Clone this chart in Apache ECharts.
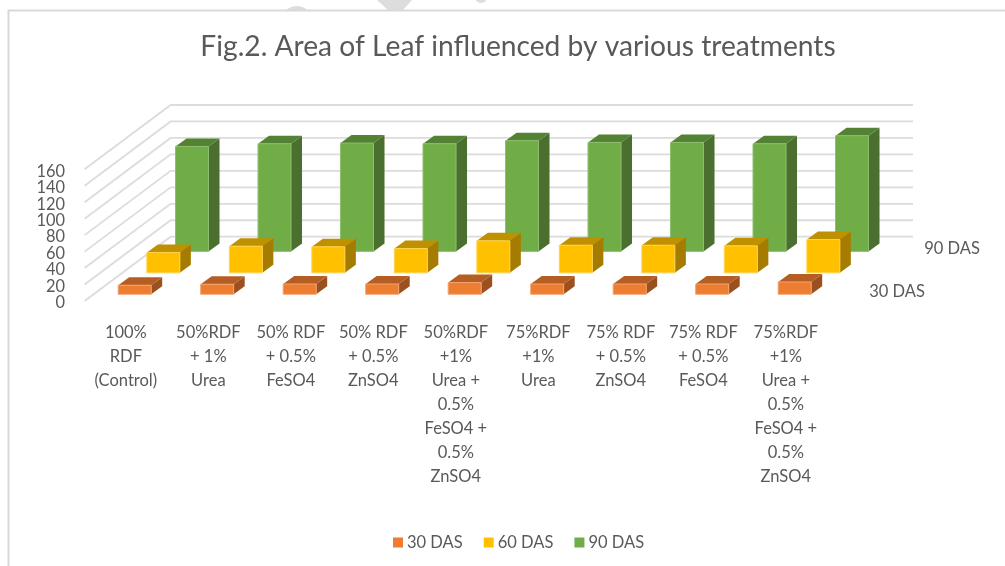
<!DOCTYPE html>
<html>
<head>
<meta charset="utf-8">
<style>html,body{margin:0;padding:0;background:#fff}#c{width:1005px;height:566px}</style>
<script src="https://cdn.jsdelivr.net/npm/echarts@6/dist/echarts.min.js"></script>
</head>
<body>
<div id="c"></div>
<script>
const categories = [
  "100%\nRDF\n(Control)",
  "50%RDF\n+ 1%\nUrea",
  "50% RDF\n+ 0.5%\nFeSO4",
  "50% RDF\n+ 0.5%\nZnSO4",
  "50%RDF\n+1%\nUrea +\n0.5%\nFeSO4 +\n0.5%\nZnSO4",
  "75%RDF\n+1%\nUrea",
  "75% RDF\n+ 0.5%\nZnSO4",
  "75% RDF\n+ 0.5%\nFeSO4",
  "75%RDF\n+1%\nUrea +\n0.5%\nFeSO4 +\n0.5%\nZnSO4"
];
const das30 = [11, 12.2, 12.5, 12.5, 14.2, 12.5, 12.5, 12.5, 15];
const das60 = [24.8, 32.4, 31.6, 29.6, 38.9, 33.6, 33.6, 32.8, 40.5];
const das90 = [127.5, 130.8, 131.6, 130.8, 134.5, 132.4, 132.4, 130.8, 140.6];
const yTicks = [0, 20, 40, 60, 80, 100, 120, 140, 160];

const DX = 86, DY = -64.3, ROWS = 3;
const rowDx = DX / ROWS, rowDy = DY / ROWS;
const barDx = 11, barDy = -8, barFrac = 0.4;
const wallRight = 913;
const TXT = '#595959', FONT = 'Lato';

function barSeries(name, values, row, z, c) {
  return {
    type: 'custom', name, z,
    data: values.map((v, i) => [i, v]),
    encode: { x: 0, y: 1 },
    itemStyle: { color: c.front },
    renderItem(params, api) {
      const i = api.value(0), v = api.value(1);
      const top = api.coord([i, v]), base = api.coord([i, 0]);
      const w = api.size([1, 0])[0] * barFrac;
      const x0 = base[0] + row * rowDx + (rowDx - barDx) / 2 - w / 2;
      const yB = base[1] + row * rowDy + (rowDy - barDy) / 2;
      const yT = top[1] + row * rowDy + (rowDy - barDy) / 2;
      const x1 = x0 + w;
      return { type: 'group', children: [
        { type: 'polygon', shape: { points: [[x1, yT], [x1 + barDx, yT + barDy], [x1 + barDx, yB + barDy], [x1, yB]] }, style: { fill: c.side } },
        { type: 'polygon', shape: { points: [[x0, yT], [x0 + barDx, yT + barDy], [x1 + barDx, yT + barDy], [x1, yT]] }, style: { fill: c.top } },
        { type: 'rect', shape: { x: x0, y: yT, width: w, height: yB - yT }, style: { fill: c.front, stroke: c.edge, lineWidth: 1 } }
      ] };
    }
  };
}

const wallSeries = {
  type: 'custom', name: 'wall', z: 1, silent: true,
  data: yTicks.map(v => [0, v]),
  encode: { x: 0, y: 1 },
  renderItem(params, api) {
    const p = api.coord([0, api.value(1)]);
    const x0 = p[0] - api.size([1, 0])[0] / 2, y0 = p[1];
    const ls = { stroke: '#DCDCDC', lineWidth: 1.8, fill: null };
    return { type: 'group', children: [
      { type: 'polyline', shape: { points: [[x0, y0], [x0 + DX, y0 + DY], [wallRight, y0 + DY]] }, style: ls }
    ] };
  }
};

const chart = echarts.init(document.getElementById('c'), null, { renderer: 'canvas' });
chart.setOption({
  animation: false,
  backgroundColor: '#fff',
  textStyle: { fontFamily: FONT },
  title: {
    text: 'Fig.2. Area of Leaf influenced by various treatments',
    left: 513, top: 28, textAlign: 'center',
    textStyle: { fontFamily: FONT, fontSize: 28.2, fontWeight: 'normal', color: TXT }
  },
  legend: {
    data: ['30 DAS', '60 DAS', '90 DAS'],
    left: 388, top: 529, icon: 'rect', itemWidth: 10, itemHeight: 10, itemGap: 21,
    textStyle: { fontFamily: FONT, fontSize: 16.5, color: TXT, padding: [0, 0, 0, -1] },
    selectedMode: false
  },
  grid: { left: 84.6, top: 169.3, width: 742.5, height: 131.7 },
  xAxis: {
    type: 'category', data: categories,
    axisLine: { show: false }, axisTick: { show: false }, splitLine: { show: false },
    axisLabel: { interval: 0, margin: 20, lineHeight: 24, fontSize: 16.5, color: TXT, fontFamily: FONT }
  },
  yAxis: {
    type: 'value', min: 0, max: 160, interval: 20,
    axisLine: { show: false }, axisTick: { show: false }, splitLine: { show: false },
    axisLabel: { margin: 19.6, fontSize: 16.4, color: TXT, fontFamily: FONT, verticalAlign: 'top', lineHeight: 4, showMinLabel: true, showMaxLabel: true }
  },
  graphic: [
    { type: 'polygon', z: 0, shape: { points: [[377, 0], [412, 0], [403, 10], [388, 10]] }, style: { fill: '#DDDDDD' } },
    { type: 'sector', z: 0, shape: { cx: 297, cy: 22, r: 16, startAngle: Math.PI * 1.15, endAngle: Math.PI * 1.85 }, style: { fill: '#DDDDDD' } },
    { type: 'circle', z: 0, shape: { cx: 481, cy: -3, r: 6 }, style: { fill: '#DDDDDD' } },
    { type: 'rect', z: 0, shape: { x: 0, y: 11, width: 1005, height: 555 }, style: { fill: '#fff' } },
    { type: 'polyline', z: 0, shape: { points: [[8.5, 566], [8.5, 10.5], [1005, 10.5]] }, style: { stroke: '#D9D9D9', lineWidth: 2, fill: null } },
    { type: 'text', x: 952, y: 249, style: { text: '90 DAS', font: '16.5px ' + FONT, fill: TXT, textAlign: 'center', textVerticalAlign: 'middle' } },
    { type: 'text', x: 897, y: 292, style: { text: '30 DAS', font: '16.5px ' + FONT, fill: TXT, textAlign: 'center', textVerticalAlign: 'middle' } }
  ],
  series: [
    wallSeries,
    barSeries('30 DAS', das30, 0, 6, { front: '#ED7D31', top: '#B55E24', side: '#9A501F', edge: '#F4A373' }),
    barSeries('60 DAS', das60, 1, 5, { front: '#FFC000', top: '#BF9000', side: '#A67C00', edge: '#FFD24D' }),
    barSeries('90 DAS', das90, 2, 4, { front: '#70AD47', top: '#548235', side: '#4A6F2E', edge: '#8DBF6B' })
  ]
});
</script>
</body>
</html>
